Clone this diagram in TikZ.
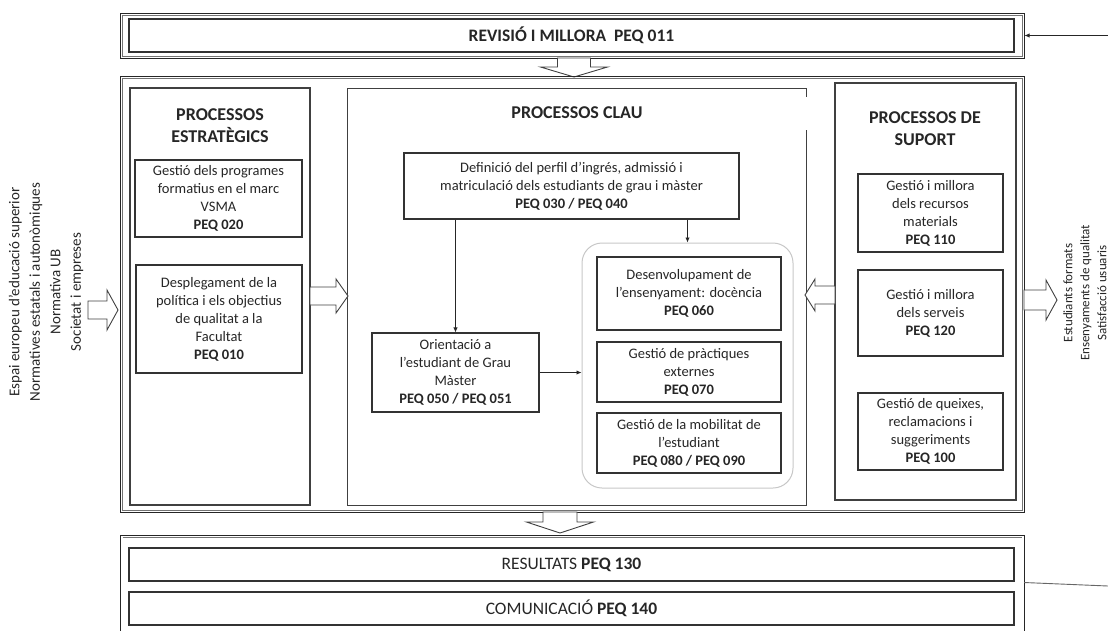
\documentclass[tikz,border=0pt]{standalone}
\usepackage{fontspec}
\setmainfont{Carlito}
\usetikzlibrary{arrows.meta,calc}
\newcommand\hblockarrow[6]{% tail x, head base x, tip x, y, shaft half, head half
  \filldraw[barrow] (#1,{#4-#5}) -- (#2,{#4-#5}) -- (#2,{#4-#6}) -- (#3,#4) -- (#2,{#4+#6}) -- (#2,{#4+#5}) -- (#1,{#4+#5}) -- cycle;}
\newcommand\vblockarrow[6]{% tail y, head base y, tip y, x, shaft half, head half
  \filldraw[barrow] ({#4-#5},#1) -- ({#4-#5},#2) -- ({#4-#6},#2) -- (#4,#3) -- ({#4+#6},#2) -- ({#4+#5},#2) -- ({#4+#5},#1) -- cycle;}
\tikzset{
  outerline/.style={draw=black!85, line width=1pt},
  innerline/.style={draw=black!55, line width=0.7pt},
  colbox/.style={draw=black!75, line width=1.1pt},
  pbox/.style={draw=black!80, line width=1.1pt, align=center, inner sep=1.5pt,
    font=\fontsize{14.5}{18}\selectfont, text=black!85},
  bar/.style={draw=black!80, line width=1.1pt, align=center, inner sep=0pt,
    font=\fontsize{17.5}{20}\selectfont, text=black!85},
  coltitle/.style={align=center, font=\fontsize{18}{22}\selectfont\bfseries, text=black!85},
  container/.style={draw=black!22, line width=1pt, rounded corners=20pt},
  lbl/.style={align=center, font=\fontsize{15}{20.5}\selectfont, text=black!85},
  lblr/.style={align=center, font=\fontsize{13}{17}\selectfont, text=black!85},
  arr/.style={draw=black!85, line width=0.9pt, -{Latex[length=5pt,width=4.5pt]}},
  plain/.style={draw=black!60, line width=0.9pt},
  barrow/.style={draw=black!75, line width=0.9pt, fill=white, line join=miter},
}
\begin{document}
\begin{tikzpicture}[x=1pt,y=-1pt]
\useasboundingbox (0,0) rectangle (1108,630);

% ---- top: revision
\node[outerline, minimum width=904, minimum height=45, inner sep=0] (revframe) at (572,35.5) {};
\draw[innerline] ($(revframe.north west)+(2.5,2.5)$) rectangle ($(revframe.south east)+(-2.5,-2.5)$);
\node[bar, minimum width=885, minimum height=33] (rev) at (571.5,35.5) {\bfseries REVISIÓ I MILLORA\ \ PEQ 011};
\coordinate (fbin) at (1108,35.5);
\draw[arr] (fbin) -- (revframe.east);
\vblockarrow{58}{67}{77}{574}{16.5}{33.5}

% ---- main frame
\node[outerline, minimum width=904, minimum height=436, inner sep=0] (mainframe) at (572,294) {};
\draw[innerline] ($(mainframe.north west)+(2.5,2.5)$) rectangle ($(mainframe.south east)+(-2.5,-2.5)$);

% strategic column
\node[colbox, minimum width=180, minimum height=417, inner sep=0] (strat) at (220,296.5) {};
\node[coltitle] (tstrat) at (220,126) {PROCESSOS\\ESTRATÈGICS};
\node[pbox, minimum width=167, minimum height=77] (gp) at (218.5,198.5)
  {Gestió dels programes\\formatius en el marc\\VSMA\\\textbf{PEQ 020}};
\node[pbox, minimum width=166, minimum height=108] (dp) at (219,319)
  {Desplegament de la\\política i els objectius\\de qualitat a la\\Facultat\\\textbf{PEQ 010}};

% key column
\node[minimum width=458, minimum height=416, inner sep=0] (clau) at (577,297) {};
\draw[colbox] ($(clau.north east)+(0,8)$) -- (clau.north east) -- (clau.north west)
  -- (clau.south west) -- (clau.south east) -- ($(clau.north east)+(0,41)$);
\node[coltitle] (tclau) at (577,113) {PROCESSOS CLAU};
\node[pbox, minimum width=335, minimum height=66] (def) at (571.5,186)
  {Definició del perfil d’ingrés, admissió i\\matriculació dels estudiants de grau i màster\\\textbf{PEQ 030 / PEQ 040}};
\node[pbox, minimum width=167, minimum height=79] (ori) at (455.5,372.5)
  {Orientació a\\l’estudiant de Grau\\Màster\\\textbf{PEQ 050 / PEQ 051}};
\node[container, minimum width=211, minimum height=245] (cont) at (687.5,365.5) {};
\node[pbox, minimum width=184, minimum height=73] (des) at (689,293.5)
  {Desenvolupament de\\l’ensenyament: docència\\\textbf{PEQ 060}};
\node[pbox, minimum width=184, minimum height=60] (pra) at (689,372)
  {Gestió de pràctiques\\externes\\\textbf{PEQ 070}};
\node[pbox, minimum width=184, minimum height=60] (mob) at (689,443)
  {Gestió de la mobilitat de\\l’estudiant\\\textbf{PEQ 080 / PEQ 090}};
\draw[arr] (def.south -| ori.north) -- (ori.north);
\draw[arr] (def.south -| cont.north) -- (cont.north);
\draw[arr] (ori.east) -- (ori.east -| cont.west);

% support column
\node[colbox, minimum width=181, minimum height=417, inner sep=0] (sup) at (925.5,291.5) {};
\node[coltitle] (tsup) at (925,129) {PROCESSOS DE\\SUPORT};
\node[pbox, minimum width=145, minimum height=78] (s1) at (930.5,213)
  {Gestió i millora\\dels recursos\\materials\\\textbf{PEQ 110}};
\node[pbox, minimum width=145, minimum height=86] (s2) at (930.5,313)
  {Gestió i millora\\dels serveis\\\textbf{PEQ 120}};
\node[pbox, minimum width=145, minimum height=77] (s3) at (930.5,431.5)
  {Gestió de queixes,\\reclamacions i\\suggeriments\\\textbf{PEQ 100}};

% block arrows inside / around main frame
\hblockarrow{88}{107}{118}{310}{9}{20}
\hblockarrow{310}{336}{348}{296}{9}{17}
\hblockarrow{835}{815}{805}{295}{9}{16}
\hblockarrow{1024}{1046}{1057}{300}{10}{20}
\vblockarrow{512}{522}{533}{560}{17}{33.5}

% side labels
\node[lbl, rotate=90] (inputs) at (46,292)
  {Espai europeu d’educació superior\\Normatives estatals i autonòmiques\\Normativa UB\\Societat i empreses};
\node[lblr, rotate=90] (outputs) at (1085,293)
  {Estudiants formats\\Ensenyaments de qualitat\\Satisfacció usuaris};

% ---- bottom: results
\coordinate (bfnw) at (120,535);
\coordinate (bfne) at (1024,535);
\draw[outerline] (bfnw |- 0,640) -- (bfnw) -- (bfne) -- (bfne |- 0,640);
\draw[innerline] ($(bfnw)+(2.5,2.5)$ |- 0,640) -- ($(bfnw)+(2.5,2.5)$) -- ($(bfne)+(-2.5,2.5)$) -- ($(bfne)+(-2.5,2.5)$ |- 0,640);
\node[bar, minimum width=885, minimum height=33] (res) at (571.5,564.5) {RESULTATS \textbf{PEQ 130}};
\node[bar, minimum width=885, minimum height=33] (com) at (571.5,608.5) {COMUNICACIÓ \textbf{PEQ 140}};
\coordinate (bfr) at (1024,582.5);
\coordinate (fbout) at (1108,586);
\draw[plain] (bfr) -- (fbout);
\end{tikzpicture}
\end{document}
